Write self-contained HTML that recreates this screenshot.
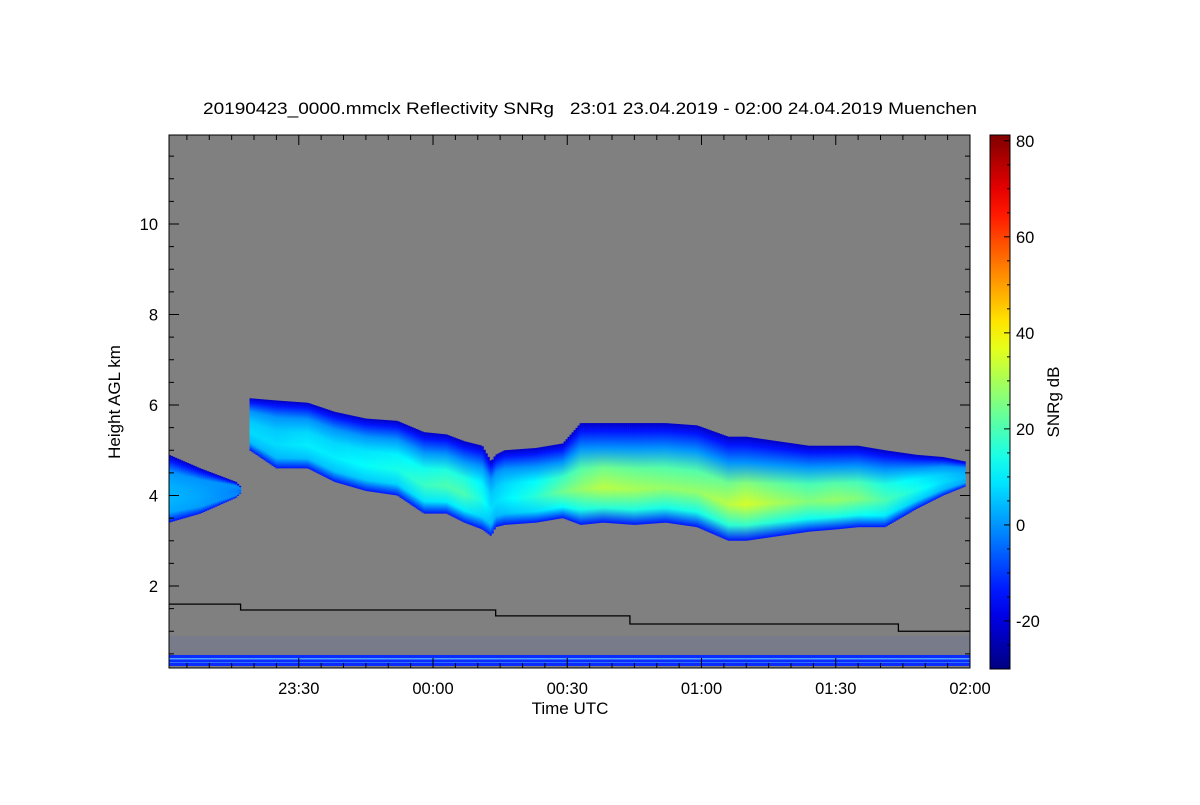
<!DOCTYPE html>
<html><head><meta charset="utf-8"><style>
body{margin:0;background:#fff;width:1200px;height:800px;overflow:hidden}
text{font-family:"Liberation Sans",sans-serif;fill:#000}
</style></head><body>
<svg id="chart" width="1200" height="800" xmlns="http://www.w3.org/2000/svg">
<defs id="defs"></defs>
<text x="203" y="114" font-size="16.5" textLength="774" lengthAdjust="spacingAndGlyphs" xml:space="preserve">20190423_0000.mmclx Reflectivity SNRg   23:01 23.04.2019 - 02:00 24.04.2019 Muenchen</text>
<rect x="169" y="135" width="801" height="533" fill="#808080"/>
<g id="cloud"></g>
<g id="noise"></g>
<path id="cbase" fill="none" stroke="#000" stroke-width="1.3"/>
<g id="axes"></g>
<rect x="169" y="135" width="801" height="533" fill="none" stroke="#000" stroke-width="1"/>
<text x="570" y="714" font-size="17" text-anchor="middle">Time UTC</text>
<text transform="translate(120,402) rotate(-90)" font-size="17" text-anchor="middle">Height AGL km</text>
<g id="cbar"></g>
<text transform="translate(1059,402) rotate(-90)" font-size="17" text-anchor="middle">SNRg dB</text>
</svg>
<script>
// data: minutes after 23:00, cloud top/base heights (km), core SNR (dB)
const seg1T=[1,8,16,17];
const seg1Top=[4.9,4.6,4.3,4.2];
const seg1Base=[3.4,3.6,3.95,4.05];
const seg1Core=[4,2,-2,-4];
const seg2T=[19,25,32,38,45,52,58,63,67,71,73,74,76,83,89,93,98,105,112,119,126,130,137,144,150,155,161,168,174,179];
const seg2Top=[6.15,6.1,6.05,5.85,5.7,5.65,5.4,5.35,5.2,5.1,4.75,4.9,5.0,5.05,5.15,5.6,5.6,5.6,5.6,5.55,5.3,5.3,5.2,5.1,5.1,5.1,5.0,4.9,4.85,4.75];
const seg2Base=[5.0,4.6,4.6,4.3,4.1,4.0,3.6,3.6,3.4,3.25,3.1,3.3,3.35,3.4,3.5,3.35,3.4,3.35,3.4,3.3,3.0,3.0,3.1,3.2,3.25,3.3,3.3,3.7,4.0,4.2];
const seg2Core=[8,8,10,10,12,14,18,20,20,14,8,8,10,16,24,28,32,30,28,28,32,35,30,26,28,26,20,14,8,4];
const stepT=[1,17,74,104,164,180];
const stepH=[1.60,1.47,1.34,1.16,1.00];
const xTicks=[30,60,90,120,150,180];
const xLabels=["23:30","00:00","00:30","01:00","01:30","02:00"];
const yTicks=[2,4,6,8,10];
const cTicks=[-20,0,20,40,60,80];

const NS="http://www.w3.org/2000/svg";
const X0=169,X1=970,T0=1,T1=180;
const xs=t=>X0+(t-T0)*(X1-X0)/(T1-T0);
const ys=h=>676.5-h*45.25;
const C0=-30,C1=81.2,CB0=669,CB1=135;
const cs=v=>CB0-(v-C0)*(CB0-CB1)/(C1-C0);
function jet(v){let f=(v-C0)/(C1-C0);f=Math.max(0,Math.min(1,f));
 const c=x=>Math.round(255*Math.max(0,Math.min(1,1.5-Math.abs(4*f-x))));
 return `rgb(${c(3)},${c(2)},${c(1)})`;}
function mk(tag,attrs,parent){const e=document.createElementNS(NS,tag);for(const k in attrs)e.setAttribute(k,attrs[k]);parent.appendChild(e);return e;}
function interp(T,A,t){for(let i=0;i<T.length-1;i++){if(t>=T[i]&&t<=T[i+1]){const f=(t-T[i])/(T[i+1]-T[i]);return A[i]+f*(A[i+1]-A[i]);}}return null;}
const defs=document.getElementById('defs'),cloud=document.getElementById('cloud');
let gid=0;
function drawSeg(T,Top,Base,Core){
 const xa=xs(T[0]),xb=xs(T[T.length-1]);
 for(let x=xa;x<xb;x+=2){
  const t=T0+(x+1-X0)*(T1-T0)/(X1-X0);
  const top=interp(T,Top,t),base=interp(T,Base,t),core=interp(T,Core,t);
  if(top===null)continue;
  const id='g'+(gid++);
  const g=mk('linearGradient',{id:id,x1:0,y1:0,x2:0,y2:1},defs);
  [[0,-22],[0.08,-14],[0.25,0],[0.45,core*0.75],[0.65,core],[0.85,core*0.5],[1,-14]].forEach(s=>mk('stop',{offset:s[0],'stop-color':jet(s[1])},g));
  const r=mk('rect',{x:x,y:ys(top),width:2.2,height:ys(base)-ys(top),fill:`url(#${id})`},cloud);
  
  
 }
}
drawSeg(seg1T,seg1Top,seg1Base,seg1Core);
drawSeg(seg2T,seg2Top,seg2Base,seg2Core);
// ground clutter band
const noise=document.getElementById('noise');
[[636,655,'rgba(40,80,230,0.1)'],[655,666,'#0a2cff'],[658,659.5,'#4fa0ff'],[662,663,'#3070ff']].forEach(b=>mk('rect',{x:X0,y:b[0],width:X1-X0,height:b[1]-b[0],fill:b[2]},noise));
// step line
let d='';for(let i=0;i<stepH.length;i++){d+=(i?'L':'M')+xs(stepT[i])+','+ys(stepH[i])+'L'+xs(stepT[i+1])+','+ys(stepH[i]);}
document.getElementById('cbase').setAttribute('d',d);
// axes
const ax=document.getElementById('axes');
for(let t=5;t<=180;t+=5){const x=xs(t),L=(t%30==0)?10:5;
 mk('line',{x1:x,y1:668,x2:x,y2:668-L,stroke:'#000'},ax);mk('line',{x1:x,y1:135,x2:x,y2:135+L,stroke:'#000'},ax);}
xTicks.forEach((t,i)=>{const e=mk('text',{x:xs(t),y:694,'font-size':16.5,'text-anchor':'middle'},ax);e.textContent=xLabels[i];
 });
for(let h=0.5;h<=11.9;h+=0.5){const y=ys(h),L=(Math.abs(h%2)<0.01)?10:5;
 mk('line',{x1:169,y1:y,x2:169+L,y2:y,stroke:'#000'},ax);mk('line',{x1:970,y1:y,x2:970-L,y2:y,stroke:'#000'},ax);}
yTicks.forEach(h=>{const e=mk('text',{x:158,y:ys(h)+6,'font-size':16.5,'text-anchor':'end'},ax);e.textContent=h;
 });
// colorbar
const cb=document.getElementById('cbar');
const cg=mk('linearGradient',{id:'cbg',x1:0,y1:1,x2:0,y2:0},defs);
for(let i=0;i<=20;i++){const v=C0+i*(C1-C0)/20;mk('stop',{offset:i/20,'stop-color':jet(v)},cg);}
mk('rect',{x:990,y:CB1,width:20,height:CB0-CB1,fill:'url(#cbg)',stroke:'#000'},cb);
for(let v=-25;v<=80;v+=5){const y=cs(v),L=(v%20==0)?6:3;mk('line',{x1:1010,y1:y,x2:1010-L,y2:y,stroke:'#000'},cb);}
cTicks.forEach(v=>{const e=mk('text',{x:1016,y:cs(v)+6,'font-size':16.5},cb);e.textContent=v;
 });
</script>
</body></html>
